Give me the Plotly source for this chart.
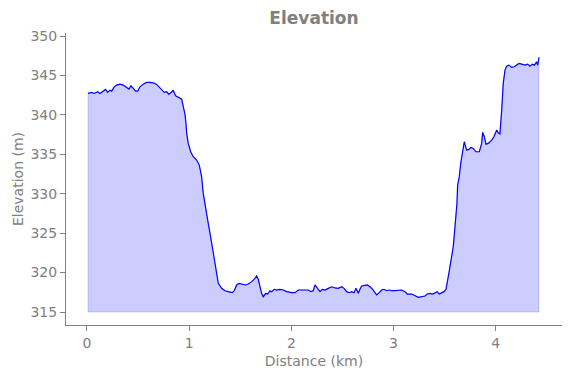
import plotly.graph_objects as go

distance_km = [
    0.010, 0.046, 0.071, 0.105, 0.127, 0.159, 0.183, 0.203, 0.225, 0.242,
    0.267, 0.291, 0.323, 0.355, 0.388, 0.411, 0.431, 0.453, 0.477, 0.496,
    0.519, 0.551, 0.584, 0.616, 0.649, 0.682, 0.705, 0.731, 0.756, 0.780,
    0.802, 0.822, 0.844, 0.868, 0.900, 0.927, 0.942, 0.959, 0.969, 0.976,
    0.991, 1.015, 1.040, 1.073, 1.099, 1.122, 1.138, 1.155, 1.171, 1.187,
    1.210, 1.230, 1.252, 1.269, 1.285, 1.318, 1.350, 1.383, 1.422, 1.441,
    1.465, 1.487, 1.520, 1.553, 1.578, 1.612, 1.644, 1.660, 1.676, 1.693,
    1.709, 1.725, 1.749, 1.768, 1.791, 1.807, 1.833, 1.856, 1.888, 1.921,
    1.954, 2.003, 2.035, 2.068, 2.107, 2.133, 2.165, 2.192, 2.214, 2.231,
    2.257, 2.280, 2.302, 2.329, 2.361, 2.394, 2.427, 2.459, 2.492, 2.515,
    2.541, 2.567, 2.590, 2.613, 2.632, 2.645, 2.655, 2.671, 2.688, 2.720,
    2.743, 2.769, 2.796, 2.818, 2.835, 2.860, 2.884, 2.906, 2.932, 2.958,
    2.981, 3.014, 3.046, 3.079, 3.112, 3.134, 3.177, 3.209, 3.242, 3.275,
    3.307, 3.330, 3.356, 3.383, 3.405, 3.428, 3.447, 3.471, 3.493, 3.513,
    3.526, 3.535, 3.552, 3.568, 3.584, 3.601, 3.620, 3.627, 3.643, 3.657,
    3.676, 3.692, 3.715, 3.738, 3.757, 3.780, 3.806, 3.839, 3.862, 3.872,
    3.888, 3.904, 3.927, 3.960, 3.982, 4.009, 4.024, 4.041, 4.058, 4.073,
    4.090, 4.106, 4.129, 4.156, 4.181, 4.205, 4.227, 4.253, 4.286, 4.312,
    4.335, 4.357, 4.377, 4.400, 4.410, 4.423,
]

elevation_m = [
    342.73, 342.86, 342.73, 342.94, 342.73, 343.03, 343.24, 342.86, 343.15, 343.03,
    343.57, 343.79, 343.91, 343.79, 343.45, 343.28, 343.70, 343.37, 343.03, 343.03,
    343.57, 343.91, 344.13, 344.13, 344.08, 343.87, 343.57, 343.15, 342.86, 342.94,
    342.60, 342.86, 343.10, 342.43, 342.18, 342.01, 341.10, 340.10, 338.93, 337.66,
    336.39, 335.33, 334.70, 334.28, 333.64, 332.16, 330.05, 328.57, 327.72, 326.25,
    324.55, 322.86, 321.17, 319.69, 318.64, 318.00, 317.70, 317.58, 317.45, 317.70,
    318.43, 318.64, 318.55, 318.43, 318.55, 318.85, 319.27, 319.57, 319.15, 318.21,
    317.37, 316.94, 317.37, 317.28, 317.70, 317.58, 317.88, 317.79, 317.88, 317.79,
    317.58, 317.45, 317.45, 317.79, 317.79, 317.70, 317.79, 317.58, 317.70, 318.43,
    318.00, 317.58, 317.88, 317.79, 318.00, 318.20, 318.05, 318.00, 318.21, 318.00,
    317.58, 317.45, 317.58, 317.45, 318.00, 317.70, 317.37, 317.88, 318.30, 318.38,
    318.43, 318.21, 317.88, 317.45, 317.16, 317.45, 317.79, 317.88, 317.70, 317.79,
    317.70, 317.70, 317.79, 317.79, 317.58, 317.28, 317.28, 317.03, 316.86, 316.94,
    317.03, 317.28, 317.37, 317.28, 317.45, 317.58, 317.28, 317.45, 317.58, 317.88,
    318.64, 319.48, 320.75, 322.23, 323.29, 325.82, 328.78, 331.10, 332.16, 333.86,
    335.54, 336.60, 335.54, 335.63, 335.89, 335.76, 335.33, 335.33, 336.39, 337.79,
    337.24, 336.30, 336.39, 336.81, 337.24, 338.08, 337.74, 337.60, 340.62, 344.00,
    345.69, 346.20, 346.32, 346.03, 346.11, 346.32, 346.54, 346.45, 346.32, 346.45,
    346.20, 346.45, 346.32, 346.74, 346.32, 347.30,
]

base_elevation = 315
y_ticks = [315, 320, 325, 330, 335, 340, 345, 350]
x_ticks = [0, 1, 2, 3, 4]

GRAY = "#808080"
FONT = "DejaVu Sans"

# the page body adds an 8px offset; margins compensate for it
OFF = 8
W, H = 571, 378

fig = go.Figure()

# filled area between the baseline and the profile
poly_x = [distance_km[0]] + distance_km + [distance_km[-1], distance_km[0]]
poly_y = [base_elevation] + elevation_m + [base_elevation, base_elevation]
fig.add_trace(go.Scatter(
    x=poly_x, y=poly_y, mode="lines", fill="toself",
    fillcolor="rgba(0,0,255,0.2)", line=dict(color="rgba(0,0,255,0.15)", width=1),
    hoverinfo="skip", showlegend=False,
))
fig.add_trace(go.Scatter(
    x=distance_km, y=elevation_m, mode="lines",
    line=dict(color="blue", width=1.2), showlegend=False,
))

fig.update_layout(
    width=W, height=H,
    margin=dict(l=66 - OFF, r=W + OFF - 562, t=33 - OFF, b=H + OFF - 325,
                autoexpand=False),
    paper_bgcolor="white", plot_bgcolor="white",
    font=dict(family=FONT, color=GRAY, size=14),
    title=dict(text="<b>Elevation</b>", x=(314 - OFF) / W, xanchor="center",
               y=1 - (18 - OFF) / H, yanchor="middle", automargin=False,
               font=dict(family=FONT, size=17, color=GRAY)),
    xaxis=dict(
        range=[-0.205, 4.648], tickvals=x_ticks, ticks="outside", ticklen=5,
        tickcolor=GRAY, showline=True, linecolor=GRAY, linewidth=1,
        showgrid=False, zeroline=False, mirror=False, automargin=False,
        tickfont=dict(family=FONT, size=14, color=GRAY),
        title=dict(text="Distance (km)", standoff=6,
                   font=dict(family=FONT, size=14, color=GRAY)),
    ),
    yaxis=dict(
        range=[313.35, 350.4], tickvals=y_ticks, ticks="outside", ticklen=5,
        tickcolor=GRAY, showline=True, linecolor=GRAY, linewidth=1,
        showgrid=False, zeroline=False, mirror=False, automargin=False,
        tickfont=dict(family=FONT, size=14, color=GRAY),
        title=dict(text="Elevation (m)", standoff=3,
                   font=dict(family=FONT, size=14, color=GRAY)),
    ),
)

fig.write_html("out.html")
